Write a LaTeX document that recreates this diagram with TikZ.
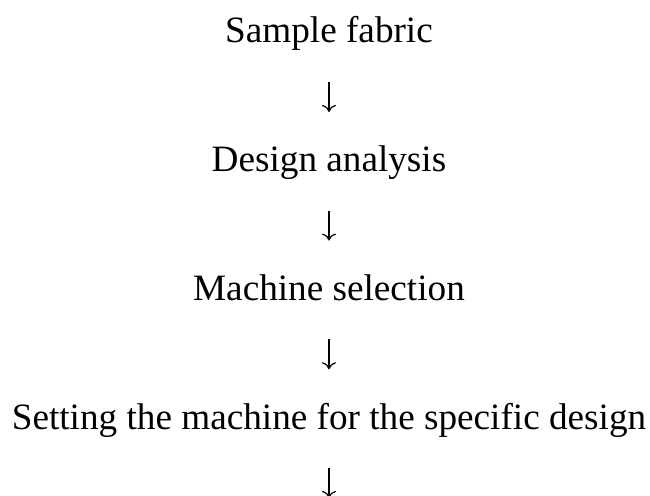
\documentclass[tikz,border=0pt]{standalone}
\usepackage{fontspec}
\setmainfont{Liberation Serif}
\usepackage{tikz}
\usetikzlibrary{positioning, arrows.meta}

\begin{document}
\begin{tikzpicture}[
    x=1pt, y=1pt,
    font=\fontsize{37.2}{44}\selectfont,
    stage/.style={
    	inner sep=0pt, anchor=base
    }, pil/.style={
    	-{To[length=7pt, width=14pt]},
    	line width=1.2pt,
    	shorten <=39pt, shorten >=59.7pt
    }]
    \useasboundingbox (0,0) rectangle (650,-495);

    \node[stage] (sample) at (329,-43) {Sample fabric};
    \node[stage] (design) at (329,-171.7) {Design analysis};
    \node[stage] (machine) at (329,-300.3) {Machine selection};
    \node[stage] (setting) at (329,-429) {Setting the machine for the specific design};
    \coordinate (next) at (329,-557.7);

    \draw[pil] (sample.base) -- (design.base);
    \draw[pil] (design.base) -- (machine.base);
    \draw[pil] (machine.base) -- (setting.base);
    \draw[pil] (setting.base) -- (next);

\end{tikzpicture}
\end{document}
